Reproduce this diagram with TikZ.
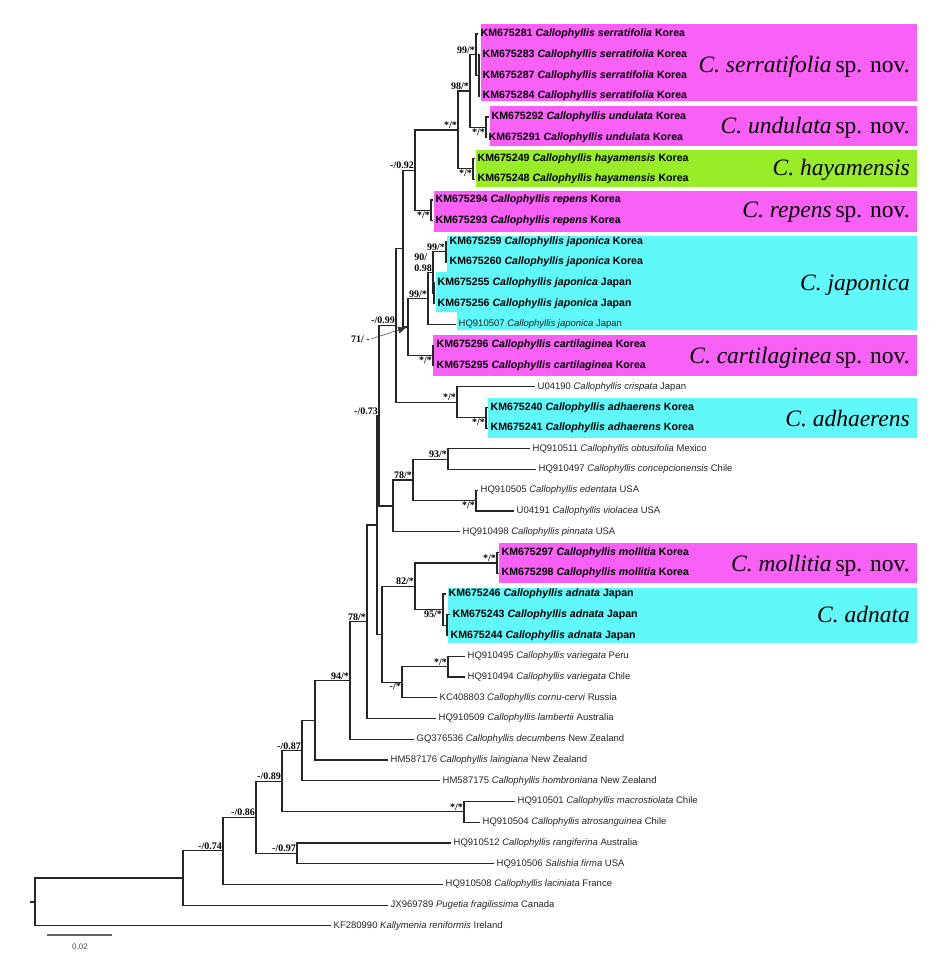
\documentclass[tikz,border=0pt]{standalone}
\usepackage{fontspec}
\setmainfont{Liberation Serif}
\setsansfont{Liberation Sans}
\usetikzlibrary{arrows.meta}
\definecolor{pinkbox}{RGB}{248,96,246}
\definecolor{greenbox}{RGB}{152,236,40}
\definecolor{cyanbox}{RGB}{96,248,248}
\begin{document}
\begin{tikzpicture}[x=1pt,y=-1pt,
  branch/.style={draw=black!85,line width=1.2pt},
  leaf/.style={anchor=west,inner xsep=2.5pt,inner ysep=0pt,font=\sffamily\fontsize{9.5}{11}\selectfont,text=black!85},
  bleaf/.style={leaf,font=\sffamily\bfseries\fontsize{10.6}{12}\selectfont,text=black},
  bsup/.style={anchor=south east,inner sep=1pt,font=\bfseries\fontsize{10}{11}\selectfont},
  bsdn/.style={anchor=north east,inner sep=1pt,font=\bfseries\fontsize{10}{11}\selectfont},
  clade/.style={anchor=base east,inner sep=0pt,font=\fontsize{23.5}{28}\selectfont}]
\useasboundingbox (0,0) rectangle (947,959);

% coloured boxes behind the clades
\fill[pinkbox] (481,24) rectangle (917,101);
\fill[pinkbox] (490,106) rectangle (917,146);
\fill[greenbox] (476,150) rectangle (917,187);
\fill[pinkbox] (434,191) rectangle (917,232);
\fill[cyanbox] (447,236) -- (917,236) -- (917,330) -- (457,330) -- (457,312)
  -- (436,312) -- (436,272) -- (447,272) -- cycle;
\fill[pinkbox] (433,335) rectangle (917,376);
\fill[cyanbox] (488,398) rectangle (917,438);
\fill[pinkbox] (499,543) rectangle (917,583);
\fill[cyanbox] (448,588) rectangle (917,643);

% species names
\node[clade] (cserr) at (910,72) {\textit{C. serratifolia}\,sp. nov.};
\node[clade] (cund) at (910,133) {\textit{C. undulata}\,sp. nov.};
\node[clade] (chaya) at (910,175) {\textit{C. hayamensis}};
\node[clade] (crep) at (910,217) {\textit{C. repens}\,sp. nov.};
\node[clade] (cjap) at (910,290) {\textit{C. japonica}};
\node[clade] (ccart) at (910,363) {\textit{C. cartilaginea}\,sp. nov.};
\node[clade] (cadh) at (910,426) {\textit{C. adhaerens}};
\node[clade] (cmoll) at (910,571) {\textit{C. mollitia}\,sp. nov.};
\node[clade] (cadn) at (910,622) {\textit{C. adnata}};

% leaves
\node[bleaf] (km281) at (478,34) {KM675281 \textit{Callophyllis serratifolia} Korea};
\node[bleaf] (km283) at (480,54.7) {KM675283 \textit{Callophyllis serratifolia} Korea};
\node[bleaf] (km287) at (480,75.5) {KM675287 \textit{Callophyllis serratifolia} Korea};
\node[bleaf] (km284) at (480,96.2) {KM675284 \textit{Callophyllis serratifolia} Korea};
\node[bleaf] (km292) at (489,117) {KM675292 \textit{Callophyllis undulata} Korea};
\node[bleaf] (km291) at (486,137.7) {KM675291 \textit{Callophyllis undulata} Korea};
\node[bleaf] (km249) at (475,158.4) {KM675249 \textit{Callophyllis hayamensis} Korea};
\node[bleaf] (km248) at (475,179.2) {KM675248 \textit{Callophyllis hayamensis} Korea};
\node[bleaf] (km294) at (433,199.9) {KM675294 \textit{Callophyllis repens} Korea};
\node[bleaf] (km293) at (433,220.7) {KM675293 \textit{Callophyllis repens} Korea};
\node[bleaf] (km259) at (447,241.4) {KM675259 \textit{Callophyllis japonica} Korea};
\node[bleaf] (km260) at (447,262.1) {KM675260 \textit{Callophyllis japonica} Korea};
\node[bleaf] (km255) at (435,282.9) {KM675255 \textit{Callophyllis japonica} Japan};
\node[bleaf] (km256) at (435,303.6) {KM675256 \textit{Callophyllis japonica} Japan};
\node[leaf] (hq507) at (456,324.4) {HQ910507 \textit{Callophyllis japonica} Japan};
\node[bleaf] (km296) at (434,345.1) {KM675296 \textit{Callophyllis cartilaginea} Korea};
\node[bleaf] (km295) at (434,365.8) {KM675295 \textit{Callophyllis cartilaginea} Korea};
\node[leaf] (u190) at (535,386.6) {U04190 \textit{Callophyllis crispata} Japan};
\node[bleaf] (km240) at (488,407.3) {KM675240 \textit{Callophyllis adhaerens} Korea};
\node[bleaf] (km241) at (488,428.1) {KM675241 \textit{Callophyllis adhaerens} Korea};
\node[leaf] (hq511) at (530,448.8) {HQ910511 \textit{Callophyllis obtusifolia} Mexico};
\node[leaf] (hq497) at (536,469.5) {HQ910497 \textit{Callophyllis concepcionensis} Chile};
\node[leaf] (hq505) at (478,490.3) {HQ910505 \textit{Callophyllis edentata} USA};
\node[leaf] (u191) at (514,511) {U04191 \textit{Callophyllis violacea} USA};
\node[leaf] (hq498) at (460,531.8) {HQ910498 \textit{Callophyllis pinnata} USA};
\node[bleaf] (km297) at (499,552.5) {KM675297 \textit{Callophyllis mollitia} Korea};
\node[bleaf] (km298) at (499,573.2) {KM675298 \textit{Callophyllis mollitia} Korea};
\node[bleaf] (km246) at (446,594) {KM675246 \textit{Callophyllis adnata} Japan};
\node[bleaf] (km243) at (450,614.7) {KM675243 \textit{Callophyllis adnata} Japan};
\node[bleaf] (km244) at (448,635.5) {KM675244 \textit{Callophyllis adnata} Japan};
\node[leaf] (hq495) at (465,656.2) {HQ910495 \textit{Callophyllis variegata} Peru};
\node[leaf] (hq494) at (465,676.9) {HQ910494 \textit{Callophyllis variegata} Chile};
\node[leaf] (kc803) at (437,697.7) {KC408803 \textit{Callophyllis cornu-cervi} Russia};
\node[leaf] (hq509) at (436,718.4) {HQ910509 \textit{Callophyllis lambertii} Australia};
\node[leaf] (gq536) at (414,739.2) {GQ376536 \textit{Callophyllis decumbens} New Zealand};
\node[leaf] (hm176) at (388,759.9) {HM587176 \textit{Callophyllis laingiana} New Zealand};
\node[leaf] (hm175) at (440,780.6) {HM587175 \textit{Callophyllis hombroniana} New Zealand};
\node[leaf] (hq501) at (515,801.4) {HQ910501 \textit{Callophyllis macrostiolata} Chile};
\node[leaf] (hq504) at (480,822.1) {HQ910504 \textit{Callophyllis atrosanguinea} Chile};
\node[leaf] (hq512) at (451,842.9) {HQ910512 \textit{Callophyllis rangiferina} Australia};
\node[leaf] (hq506) at (494,863.6) {HQ910506 \textit{Salishia firma} USA};
\node[leaf] (hq508) at (443,884.3) {HQ910508 \textit{Callophyllis laciniata} France};
\node[leaf] (jx789) at (388,905.1) {JX969789 \textit{Pugetia fragilissima} Canada};
\node[leaf] (kf990) at (331,925.8) {KF280990 \textit{Kallymenia reniformis} Ireland};

% internal nodes
\coordinate (serrb) at (479,75.5);
\coordinate (serr) at (476,54.7);
\coordinate (und) at (486,127.4);
\coordinate (serrund) at (470,91);
\coordinate (haya) at (473,168.8);
\coordinate (shu) at (458,129.9);
\coordinate (rep) at (431,210.3);
\coordinate (shur) at (415,170.1);
\coordinate (japa) at (446,251.8);
\coordinate (japb) at (434,293.2);
\coordinate (japc) at (433,272.5);
\coordinate (jap) at (428,298.4);
\coordinate (cart) at (433,355.5);
\coordinate (jc) at (408,326.9);
\coordinate (upper) at (403,248.5);
\coordinate (adh) at (486,417.7);
\coordinate (adhc) at (457,402.1);
\coordinate (core) at (396,325.3);
\coordinate (obco) at (448,459.2);
\coordinate (edvi) at (476,500.6);
\coordinate (obed) at (413,479.9);
\coordinate (obpi) at (393,505.9);
\coordinate (mid) at (379,415.6);
\coordinate (moll) at (497,562.9);
\coordinate (adnb) at (447,625.1);
\coordinate (adn) at (443,609.5);
\coordinate (moad) at (415,586.2);
\coordinate (vari) at (448,666.5);
\coordinate (vaco) at (402,682.1);
\coordinate (lower) at (382,634.2);
\coordinate (split) at (377,524.9);
\coordinate (lamb) at (367,621.6);
\coordinate (decu) at (350,680.4);
\coordinate (lain) at (315,720.2);
\coordinate (homb) at (302,750.4);
\coordinate (macr) at (464,811.8);
\coordinate (atro) at (282,781.1);
\coordinate (rasa) at (297,853.2);
\coordinate (lacb) at (256,817.2);
\coordinate (laci) at (223,850.7);
\coordinate (ingroup) at (183,877.9);
\coordinate (root) at (35,901.9);
\coordinate (rootstub) at (30,901.9);

% branches
\draw[branch] (serrb) |- (km283.west) (serrb) |- (km287.west) (serrb) |- (km284.west);
\draw[branch] (serr) |- (km281.west) (serr) |- (serrb);
\draw[branch] (und) |- (km292.west) (und) |- (km291.west);
\draw[branch] (serrund) |- (serr) (serrund) |- (und);
\draw[branch] (haya) |- (km249.west) (haya) |- (km248.west);
\draw[branch] (shu) |- (serrund) (shu) |- (haya);
\draw[branch] (rep) |- (km294.west) (rep) |- (km293.west);
\draw[branch] (shur) |- (shu) (shur) |- (rep);
\draw[branch] (japa) |- (km259.west) (japa) |- (km260.west);
\draw[branch] (japb) |- (km255.west) (japb) |- (km256.west);
\draw[branch] (japc) |- (japa) (japc) |- (japb);
\draw[branch] (jap) |- (japc) (jap) |- (hq507.west);
\draw[branch] (cart) |- (km296.west) (cart) |- (km295.west);
\draw[branch] (jc) |- (jap) (jc) |- (cart);
\draw[branch] (upper) |- (shur) (upper) |- (jc);
\draw[branch] (adh) |- (km240.west) (adh) |- (km241.west);
\draw[branch] (adhc) |- (u190.west) (adhc) |- (adh);
\draw[branch] (core) |- (upper) (core) |- (adhc);
\draw[branch] (obco) |- (hq511.west) (obco) |- (hq497.west);
\draw[branch] (edvi) |- (hq505.west) (edvi) |- (u191.west);
\draw[branch] (obed) |- (obco) (obed) |- (edvi);
\draw[branch] (obpi) |- (obed) (obpi) |- (hq498.west);
\draw[branch] (mid) |- (core) (mid) |- (obpi);
\draw[branch] (moll) |- (km297.west) (moll) |- (km298.west);
\draw[branch] (adnb) |- (km243.west) (adnb) |- (km244.west);
\draw[branch] (adn) |- (km246.west) (adn) |- (adnb);
\draw[branch] (moad) |- (moll) (moad) |- (adn);
\draw[branch] (vari) |- (hq495.west) (vari) |- (hq494.west);
\draw[branch] (vaco) |- (vari) (vaco) |- (kc803.west);
\draw[branch] (lower) |- (moad) (lower) |- (vaco);
\draw[branch] (split) |- (mid) (split) |- (lower);
\draw[branch] (lamb) |- (split) (lamb) |- (hq509.west);
\draw[branch] (decu) |- (lamb) (decu) |- (gq536.west);
\draw[branch] (lain) |- (decu) (lain) |- (hm176.west);
\draw[branch] (homb) |- (lain) (homb) |- (hm175.west);
\draw[branch] (macr) |- (hq501.west) (macr) |- (hq504.west);
\draw[branch] (atro) |- (homb) (atro) |- (macr);
\draw[branch] (rasa) |- (hq512.west) (rasa) |- (hq506.west);
\draw[branch] (lacb) |- (atro) (lacb) |- (rasa);
\draw[branch] (laci) |- (lacb) (laci) |- (hq508.west);
\draw[branch] (ingroup) |- (laci) (ingroup) |- (jx789.west);
\draw[branch] (root) |- (ingroup) (root) |- (kf990.west);
\draw[branch] (rootstub) -- (root);

% support values
\node[bsup] (sserr) at (serr) {99/*};
\node[bsup] (sserrund) at (serrund) {98/*};
\node[bsdn] (sund) at (und) {*/*};
\node[bsup] (sshu) at (shu) {*/*};
\node[bsdn] (shaya) at (haya) {*/*};
\node[bsup] (sshur) at (shur) {-/0.92};
\node[bsdn] (srep) at (rep) {*/*};
\node[bsup] (sjapa) at (japa) {99/*};
\node[bsup,align=left] (sjapc) at (japc) {90/\\0.98};
\node[bsup] (sjap) at (jap) {99/*};
\node[bsdn] (scart) at (cart) {*/*};
\node[bsup] (sadhc) at (adhc) {*/*};
\node[bsdn] (sadh) at (adh) {*/*};
\node[bsup] (score) at (core) {-/0.99};
\node[bsup] (smid) at (mid) {-/0.73};
\node[bsup] (sobco) at (obco) {93/*};
\node[bsdn] (sedvi) at (edvi) {*/*};
\node[bsup] (sobed) at (obed) {78/*};
\node[bsup] (smoll) at (moll) {*/*};
\node[bsdn] (sadn) at (adn) {95/*};
\node[bsup] (smoad) at (moad) {82/*};
\node[bsup] (svari) at (vari) {*/*};
\node[bsdn] (svaco) at (vaco) {-/*};
\node[bsup] (slamb) at (lamb) {78/*};
\node[bsup] (sdecu) at (decu) {94/*};
\node[bsup] (shomb) at (homb) {-/0.87};
\node[bsup] (smacr) at (macr) {*/*};
\node[bsup] (satro) at (atro) {-/0.89};
\node[bsup] (srasa) at (rasa) {-/0.97};
\node[bsup] (slacb) at (lacb) {-/0.86};
\node[bsup] (slaci) at (laci) {-/0.74};
\node[anchor=east,inner sep=1pt,font=\bfseries\fontsize{10}{11}\selectfont] (sjc) at (371,339) {71/ -};
\draw[-{Latex[length=9pt,width=7pt]},line width=0.5pt,black!80,shorten >=1pt] (sjc.east) -- (jc);

% scale bar
\coordinate (sbl) at (47,935);
\coordinate (sbr) at (112,935);
\draw[line width=1.2pt,black!60] (sbl) -- (sbr);
\node[font=\sffamily\fontsize{8}{10}\selectfont,text=black!70] (sblab) at (80,947) {0.02};
\end{tikzpicture}
\end{document}
